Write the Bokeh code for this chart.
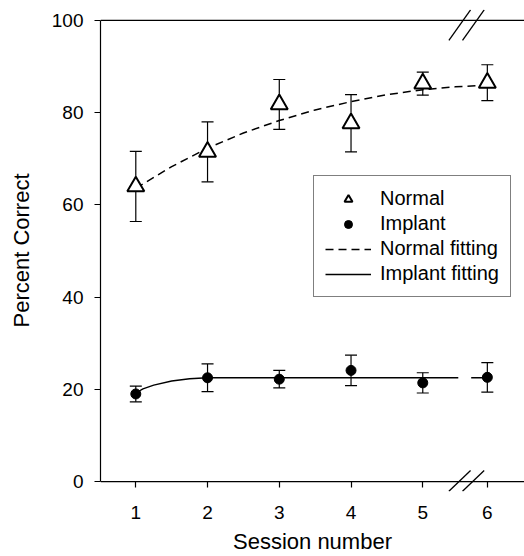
from bokeh.plotting import figure
from bokeh.models import (ColumnDataSource, Whisker, TeeHead, Arrow,
                          FixedTicker, Legend, LegendItem, Range1d)
from bokeh.embed import file_html
from bokeh.resources import INLINE

# ---------------- data ----------------
sessions = [1, 2, 3, 4, 5, 6]
normal_mean = [64.0, 71.5, 81.8, 77.7, 86.3, 86.5]
normal_err = [7.6, 6.5, 5.4, 6.2, 2.5, 3.9]
implant_mean = [19.0, 22.5, 22.2, 24.1, 21.4, 22.6]
implant_err = [1.7, 3.0, 1.9, 3.3, 2.2, 3.2]

normal_fit_sessions = [1.0, 1.5, 2.0, 2.5, 3.0, 3.5, 4.0, 4.5, 5.0, 5.5, 6.0]
normal_fit_values = [63.6, 68.3, 72.3, 75.6, 78.3, 80.6, 82.4, 83.9, 85.0, 85.6, 86.0]

implant_fit_sessions = [1.0, 1.1, 1.25, 1.5, 1.75, 2.0, 2.5, 3.0, 4.0, 5.0, 5.55, 5.75, 6.0]
implant_fit_values = [19.2, 20.1, 20.9, 21.8, 22.3, 22.5, 22.5, 22.5, 22.5, 22.5, 22.5, 22.5, 22.5]

y_ticks = [0, 20, 40, 60, 80, 100]
Y_MIN, Y_MAX = 0, 100

# broken x axis: spacing after session 5 is compressed
BREAK_AT = 5.0
AFTER_SCALE = 0.9
GAP = (5.55, 5.75)   # fitting line gap around the break (sessions)
X_START, X_END = 0.508, 6.418


def pos(s):
    return s if s <= BREAK_AT else BREAK_AT + (s - BREAK_AT) * AFTER_SCALE


FONT = "Liberation Sans"

# frame is a little taller than 0..100 so that the break marks are not clipped
p = figure(width=524, height=556, output_backend="svg", toolbar_location=None,
           x_range=Range1d(X_START, X_END), y_range=Range1d(-2.16, 102.38),
           min_border_left=100, min_border_right=0, min_border_top=9,
           min_border_bottom=63)
p.outline_line_color = None
p.xgrid.visible = False
p.ygrid.visible = False

# error bars
nsrc = ColumnDataSource(dict(
    x=[pos(s) for s in sessions], y=normal_mean,
    up=[m + e for m, e in zip(normal_mean, normal_err)],
    lo=[m - e for m, e in zip(normal_mean, normal_err)]))
isrc = ColumnDataSource(dict(
    x=[pos(s) for s in sessions], y=implant_mean,
    up=[m + e for m, e in zip(implant_mean, implant_err)],
    lo=[m - e for m, e in zip(implant_mean, implant_err)]))

for src in (nsrc, isrc):
    w = Whisker(source=src, base="x", upper="up", lower="lo",
                line_color="black", line_width=1.2,
                upper_head=TeeHead(size=12, line_color="black", line_width=1.2),
                lower_head=TeeHead(size=12, line_color="black", line_width=1.2))
    p.add_layout(w)

# fitting curves
r_nfit = p.line([pos(s) for s in normal_fit_sessions], normal_fit_values,
                line_color="black", line_width=1.5, line_dash="8 5")
ia = [(pos(s), v) for s, v in zip(implant_fit_sessions, implant_fit_values) if s <= GAP[0]]
ib = [(pos(s), v) for s, v in zip(implant_fit_sessions, implant_fit_values) if s >= GAP[1]]
r_ifit = p.line([a for a, _ in ia], [b for _, b in ia], line_color="black", line_width=1.4)
p.line([a for a, _ in ib], [b for _, b in ib], line_color="black", line_width=1.4)

# markers
r_norm = p.scatter("x", "y", source=nsrc, marker="triangle", size=17,
                   fill_color="white", line_color="black", line_width=2)
r_imp = p.scatter("x", "y", source=isrc, marker="circle", size=10,
                  fill_color="black", line_color="black")

# axes
ticks = [pos(s) for s in sessions]
p.xaxis.ticker = FixedTicker(ticks=ticks)
p.xaxis.major_label_overrides = {t: str(s) for t, s in zip(ticks, sessions)}
p.yaxis.ticker = FixedTicker(ticks=y_ticks)
for ax in (p.xaxis[0], p.yaxis[0]):
    ax.minor_tick_line_color = None
    ax.axis_line_color = "black"
    ax.axis_line_width = 1.2
    ax.major_tick_line_color = "black"
    ax.major_tick_line_width = 1.2
    ax.major_label_text_font = FONT
    ax.major_label_text_font_size = "19px"
    ax.major_label_text_color = "black"
    ax.axis_label_text_font = FONT
    ax.axis_label_text_font_size = "22px"
    ax.axis_label_text_font_style = "normal"
    ax.axis_label_text_color = "black"
p.yaxis.bounds = (Y_MIN, Y_MAX)
p.yaxis.major_tick_in = 0
p.yaxis.major_tick_out = 6
p.yaxis.axis_label = "Percent Correct"
p.yaxis.major_label_standoff = 11
p.yaxis.axis_label_standoff = 15

# x axis sits on y = 0, i.e. 10px above the frame's bottom edge
p.xaxis.axis_line_color = None
p.xaxis.major_tick_in = 10
p.xaxis.major_tick_out = -4
p.xaxis.axis_label = "Session number"
p.xaxis.major_label_standoff = 14
p.xaxis.axis_label_standoff = 7
p.add_layout(Arrow(end=None, x_start=X_START, y_start=Y_MIN, x_end=X_END, y_end=Y_MIN,
                   line_color="black", line_width=1.2))

# top frame line
p.add_layout(Arrow(end=None, x_start=X_START, y_start=Y_MAX, x_end=X_END, y_end=Y_MAX,
                   line_color="black", line_width=1.2))

# axis-break marks (top and bottom)
for dx in (0.0, 0.19):
    p.add_layout(Arrow(end=None, x_start=5.364 + dx, y_start=95.7,
                       x_end=5.666 + dx, y_end=102.3, line_color="black", line_width=1.3))
    p.add_layout(Arrow(end=None, x_start=5.364 + dx, y_start=-2.1,
                       x_end=5.666 + dx, y_end=2.4, line_color="black", line_width=1.3))

legend = Legend(items=[
    LegendItem(label="Normal", renderers=[r_norm]),
    LegendItem(label="Implant", renderers=[r_imp]),
    LegendItem(label="Normal fitting", renderers=[r_nfit]),
    LegendItem(label="Implant fitting", renderers=[r_ifit]),
], location=(213, 194), label_text_font=FONT, label_text_font_size="20px",
    label_text_color="black", border_line_color="black", border_line_width=1,
    padding=11, spacing=2, glyph_width=46, glyph_height=20, label_height=20,
    label_width=119, label_standoff=9, margin=0, background_fill_alpha=1)
p.add_layout(legend)

open("out.html", "w").write(file_html(p, INLINE))
